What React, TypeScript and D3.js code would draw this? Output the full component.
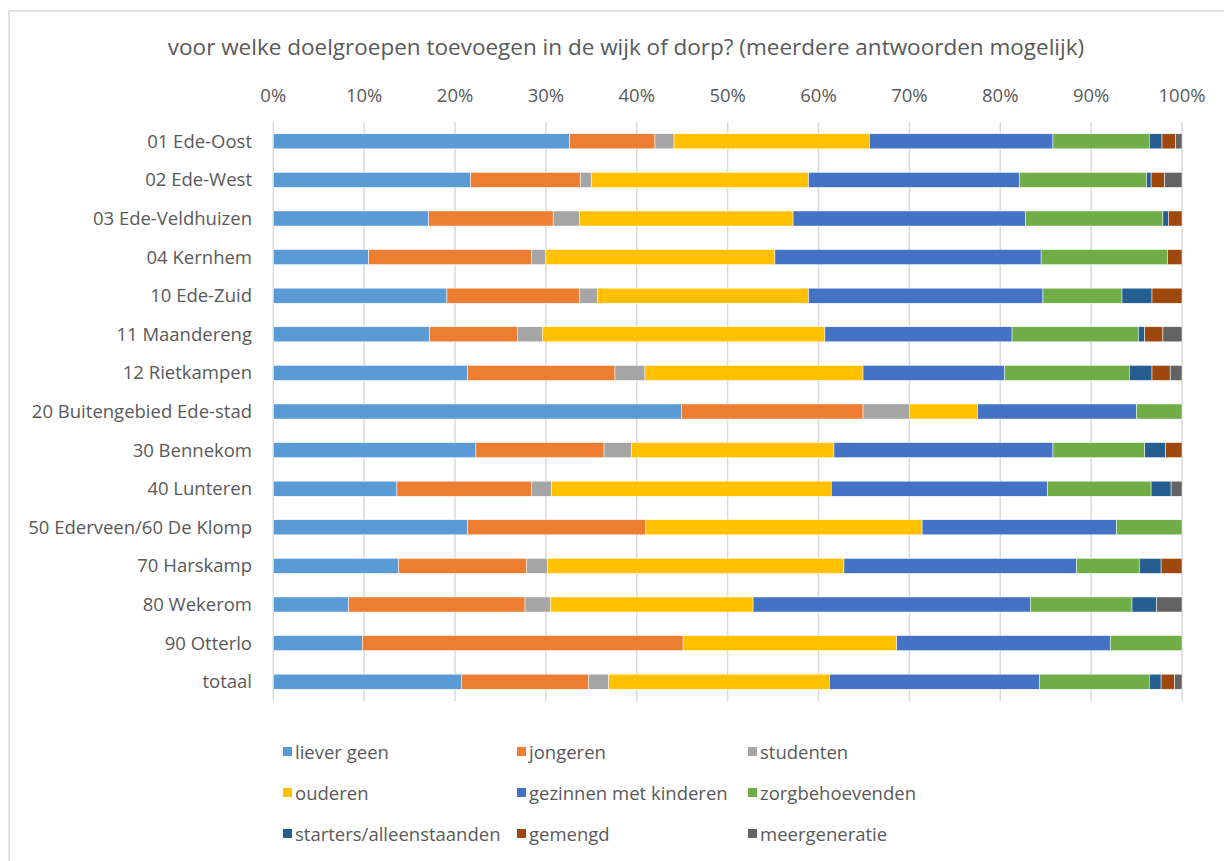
import React from "react";
import * as d3 from "d3";

const categories = [
  "01 Ede-Oost",
  "02 Ede-West",
  "03 Ede-Veldhuizen",
  "04 Kernhem",
  "10 Ede-Zuid",
  "11 Maandereng",
  "12 Rietkampen",
  "20 Buitengebied Ede-stad",
  "30 Bennekom",
  "40 Lunteren",
  "50 Ederveen/60 De Klomp",
  "70 Harskamp",
  "80 Wekerom",
  "90 Otterlo",
  "totaal",
];

const seriesNames = [
  "liever geen",
  "jongeren",
  "studenten",
  "ouderen",
  "gezinnen met kinderen",
  "zorgbehoevenden",
  "starters/alleenstaanden",
  "gemengd",
  "meergeneratie",
];

const lieverGeen = [32.6, 21.7, 17.1, 10.5, 19.1, 17.2, 21.4, 44.9, 22.3, 13.6, 21.4, 13.8, 8.3, 9.8, 20.7];
const jongeren = [9.4, 12.1, 13.7, 17.9, 14.6, 9.7, 16.2, 20.0, 14.1, 14.8, 19.6, 14.1, 19.4, 35.3, 14.0];
const studenten = [2.1, 1.2, 2.9, 1.6, 2.0, 2.7, 3.3, 5.1, 3.0, 2.2, 0, 2.3, 2.8, 0, 2.2];
const ouderen = [21.5, 23.9, 23.5, 25.2, 23.2, 31.1, 24.0, 7.5, 22.3, 30.8, 30.4, 32.6, 22.3, 23.5, 24.3];
const gezinnen = [20.2, 23.2, 25.6, 29.3, 25.8, 20.6, 15.6, 17.5, 24.1, 23.8, 21.4, 25.6, 30.5, 23.5, 23.1];
const zorg = [10.6, 14.0, 15.1, 13.9, 8.7, 13.9, 13.7, 5.0, 10.1, 11.4, 7.2, 6.9, 11.2, 7.9, 12.1];
const starters = [1.4, 0.5, 0.6, 0, 3.3, 0.7, 2.5, 0, 2.3, 2.2, 0, 2.4, 2.7, 0, 1.3];
const gemengd = [1.5, 1.5, 1.5, 1.6, 3.3, 2.0, 2.0, 0, 1.8, 0, 0, 2.3, 0, 0, 1.5];
const meergeneratie = [0.7, 1.9, 0, 0, 0, 2.1, 1.3, 0, 0, 1.2, 0, 0, 2.8, 0, 0.8];

const seriesValues = [lieverGeen, jongeren, studenten, ouderen, gezinnen, zorg, starters, gemengd, meergeneratie];

const colors = ["#5B9BD5", "#ED7D31", "#A5A5A5", "#FFC000", "#4472C4", "#70AD47", "#255E91", "#9E480E", "#636363"];

const tickValues = [0, 0.1, 0.2, 0.3, 0.4, 0.5, 0.6, 0.7, 0.8, 0.9, 1.0];

const title = "voor welke doelgroepen toevoegen in de wijk of dorp? (meerdere antwoorden mogelijk)";

const FONT = "'Open Sans', sans-serif";
const TXT = "#595959";

export default function App() {
  const W = 1224;
  const H = 861;
  const left = 273.3;
  const right = 1182;
  const top = 122;
  const bottom = 701;

  const x = d3.scaleLinear().domain([0, 1]).range([left, right]);
  const y = d3.scaleBand<string>().domain(categories).range([top, bottom]).paddingInner(0.61).paddingOuter(0.305);

  const rows = categories.map((c, i) => {
    const vals = seriesValues.map((s) => s[i]);
    const total = d3.sum(vals);
    return { c, vals: vals.map((v) => v / total) };
  });

  const stacked = rows.map((r) => {
    let acc = 0;
    return r.vals.map((v) => {
      const s = acc;
      acc += v;
      return [s, acc];
    });
  });

  const legendCols = [283, 517, 748];
  const legendRows = [752, 793, 834];

  return (
    <svg width={W} height={H} style={{ display: "block", position: "absolute", left: 0, top: 0 }} fontFamily={FONT}>
      <rect x={0} y={0} width={W} height={H} fill="#fff" />
      <rect x={9} y={11} width={W + 20} height={H + 20} fill="#fff" stroke="#d9d9d9" strokeWidth={1.5} />
      <text x={626} y={55} textAnchor="middle" fontSize={22.5} fill={TXT}>
        {title}
      </text>
      {tickValues.map((t) => (
        <g key={t}>
          <line x1={x(t)} x2={x(t)} y1={top} y2={bottom} stroke="#d9d9d9" strokeWidth={1.5} />
          <text x={x(t)} y={102} textAnchor="middle" fontSize={18.5} fill={TXT}>
            {d3.format(".0%")(t)}
          </text>
        </g>
      ))}
      {categories.map((c, i) => (
        <g key={c}>
          <text x={252} y={(y(c) as number) + y.bandwidth() / 2 + 6.5} textAnchor="end" fontSize={18.5} fill={TXT}>
            {c}
          </text>
          {stacked[i].map(([s, e], j) =>
            e - s > 0 ? (
              <rect
                key={j}
                x={x(s)}
                width={x(e) - x(s)}
                y={y(c) as number}
                height={y.bandwidth()}
                fill={colors[j]}
                stroke="#fff"
                strokeWidth={0.5}
              />
            ) : null
          )}
        </g>
      ))}
      {seriesNames.map((n, k) => {
        const cx = legendCols[k % 3];
        const cy = legendRows[Math.floor(k / 3)];
        return (
          <g key={n}>
            <rect x={cx} y={cy - 5} width={9} height={9} fill={colors[k]} />
            <text x={cx + 12} y={cy + 6.5} fontSize={18.5} fill={TXT}>
              {n}
            </text>
          </g>
        );
      })}
    </svg>
  );
}
